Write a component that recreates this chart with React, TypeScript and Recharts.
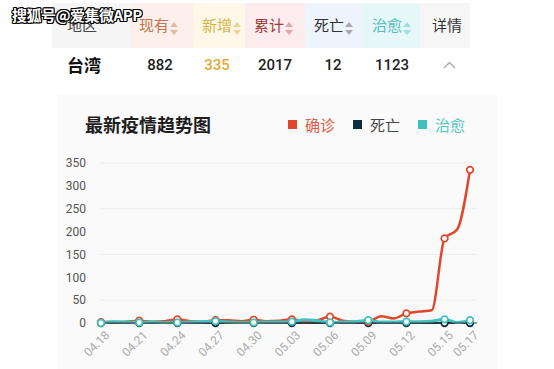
import React from 'react'
import { LineChart, Line, XAxis, YAxis, CartesianGrid, Legend } from 'recharts'

const dates = [
  '04.18', '04.19', '04.20', '04.21', '04.22', '04.23', '04.24', '04.25', '04.26', '04.27',
  '04.28', '04.29', '04.30', '05.01', '05.02', '05.03', '05.04', '05.05', '05.06', '05.07',
  '05.08', '05.09', '05.10', '05.11', '05.12', '05.13', '05.14', '05.15', '05.16', '05.17'
]
const confirmed = [2, 2, 3, 5, 3, 4, 8, 4, 3, 6, 6, 4, 7, 4, 5, 8, 4, 6, 14, 5, 3, 3, 15, 10, 21, 25, 28, 185, 205, 335]
const deaths = [0, 0, 0, 0, 0, 0, 0, 0, 0, 0, 0, 0, 0, 0, 0, 0, 0, 0, 0, 0, 0, 0, 0, 0, 0, 0, 0, 0, 0, 0]
const cured = [0, 3, 2, 1, 2, 1, 1, 2, 3, 4, 2, 1, 1, 2, 2, 3, 7, 5, 1, 2, 3, 6, 2, 2, 3, 3, 4, 8, 1, 6]
const xTicks = ['04.18', '04.21', '04.24', '04.27', '04.30', '05.03', '05.06', '05.09', '05.12', '05.15', '05.17']
const yTicks = [0, 50, 100, 150, 200, 250, 300, 350]
const legendOrder = ['确诊', '死亡', '治愈']

const headers = [
  { label: '地区', x: 52, w: 78, bg: '#f5f5f5', color: '#444', arrow: null },
  { label: '现有', x: 130, w: 63, bg: '#fdf0ea', color: '#c2734c', arrow: '#e8b7a0' },
  { label: '新增', x: 193, w: 52, bg: '#fff8e8', color: '#d6b445', arrow: '#e8d58f' },
  { label: '累计', x: 245, w: 60, bg: '#fcecee', color: '#a23c3c', arrow: '#dba7a7' },
  { label: '死亡', x: 305, w: 58, bg: '#edf4fb', color: '#333', arrow: '#aaa' },
  { label: '治愈', x: 363, w: 57, bg: '#e6f7f7', color: '#4bbfbf', arrow: '#9fdede' },
  { label: '详情', x: 420, w: 50, bg: '#f6f6f6', color: '#333', arrow: null }
]
const rowValues = [
  { text: '882', cx: 160, color: '#222' },
  { text: '335', cx: 217, color: '#e0a93a' },
  { text: '2017', cx: 275, color: '#222' },
  { text: '12', cx: 333, color: '#222' },
  { text: '1123', cx: 392, color: '#222' }
]

const RED = '#e2472d'
const NAVY = '#0f2b3c'
const TEAL = '#3fc1bf'

const data = dates.map((d, i) => ({ date: d, confirmed: confirmed[i], deaths: deaths[i], cured: cured[i] }))
const lastIndex = dates.length - 1
const FONT = "'Noto Sans CJK SC', 'Noto Sans', sans-serif"

function makeDot(color: string) {
  return (props: any) => {
    const { cx, cy, index } = props
    if (index % 3 !== 0 && index !== lastIndex) return <g key={`d-${index}`} />
    return <circle key={`d-${index}`} cx={cx} cy={cy} r={3.3} fill="#fff" stroke={color} strokeWidth={1.7} />
  }
}

function XTick(props: any) {
  const { x, y, payload } = props
  return (
    <g transform={`translate(${x},${y})`}>
      <text x={0} y={0} dy={10} dx={3} textAnchor="end" fill="#ababab" fontSize={12} fontFamily="Roboto, sans-serif" transform="rotate(-45)">
        {payload.value}
      </text>
    </g>
  )
}

function Arrow({ color }: { color: string }) {
  return (
    <svg width={8} height={13} style={{ position: 'absolute', top: 19 }}>
      <path d="M4 0 L8 5 L0 5 Z" fill={color} />
      <path d="M4 13 L8 8 L0 8 Z" fill={color} />
    </svg>
  )
}

function LegendContent(props: any) {
  const items = [...(props.payload || [])].sort(
    (a: any, b: any) => legendOrder.indexOf(a.value) - legendOrder.indexOf(b.value)
  )
  return (
    <div style={{ display: 'flex', alignItems: 'center', fontFamily: FONT, fontSize: 15 }}>
      {items.map((p: any) => (
        <div key={p.value} style={{ display: 'flex', alignItems: 'center', marginRight: 18 }}>
          <span style={{ width: 9, height: 9, background: p.color, display: 'inline-block', marginRight: 8 }} />
          <span style={{ color: p.value === '死亡' ? '#333' : p.color, opacity: 0.9 }}>{p.value}</span>
        </div>
      ))}
    </div>
  )
}

export default function App() {
  return (
    <div style={{ position: 'absolute', left: 0, top: 0, width: 554, height: 369, background: '#fff', overflow: 'hidden', fontFamily: FONT }}>
      {headers.map((h) => (
        <div key={h.label} style={{ position: 'absolute', left: h.x, top: 3, width: h.w, height: 45, background: h.bg }}>
          <span style={{ position: 'absolute', left: h.label === '地区' ? 15 : h.label === '详情' ? 12 : 9, top: 13, fontSize: 15, lineHeight: '18px', color: h.color }}>{h.label}</span>
          {h.arrow && (
            <span style={{ position: 'absolute', left: 40 }}>
              <Arrow color={h.arrow} />
            </span>
          )}
        </div>
      ))}
      <div style={{ position: 'absolute', left: 12, top: 4, fontSize: 15, fontWeight: 700, color: '#fff', letterSpacing: -0.5, textShadow: '1px 0 0 #000, -1px 0 0 #000, 0 1px 0 #000, 0 -1px 0 #000, 1px 1px 0 #000, -1px -1px 0 #000, 1px -1px 0 #000, -1px 1px 0 #000' }}>
        搜狐号@爱集微APP
      </div>
      <div style={{ position: 'absolute', left: 67, top: 54, fontSize: 17, fontWeight: 700, color: '#111', lineHeight: '22px' }}>台湾</div>
      {rowValues.map((v) => (
        <div key={v.text} style={{ position: 'absolute', left: v.cx - 30, width: 60, top: 55, textAlign: 'center', fontSize: 15, fontWeight: 500, color: v.color, fontFamily: "Roboto, 'Noto Sans', sans-serif", lineHeight: '20px' }}>
          {v.text}
        </div>
      ))}
      <svg style={{ position: 'absolute', left: 443, top: 61 }} width={13} height={8}>
        <path d="M1 7 L6.5 1.5 L12 7" fill="none" stroke="#aaa" strokeWidth={1.3} />
      </svg>
      <div style={{ position: 'absolute', left: 57, top: 95, width: 441, height: 274, background: '#fafafa' }} />
      <div style={{ position: 'absolute', left: 85, top: 112, fontSize: 18, fontWeight: 700, color: '#1e1e1e', lineHeight: '24px' }}>最新疫情趋势图</div>
      <div style={{ position: 'absolute', left: 0, top: 100 }}>
        <LineChart width={554} height={269} data={data} margin={{ top: 63, right: 77, bottom: 0, left: 60 }}>
          <CartesianGrid vertical={false} stroke="#ededed" />
          <XAxis
            dataKey="date"
            ticks={xTicks}
            interval={0}
            tick={<XTick />}
            tickLine={false}
            axisLine={{ stroke: '#444' }}
            height={46}
            padding={{ left: 0, right: 7 }}
          />
          <YAxis
            domain={[0, 350]}
            ticks={yTicks}
            width={41}
            axisLine={false}
            tickLine={false}
            tickMargin={9}
            tick={{ fontSize: 12, fill: '#555', fontFamily: 'Roboto, sans-serif' }}
          />
          <Legend
            layout="horizontal"
            verticalAlign="middle"
            align="center"
            content={<LegendContent />}
            wrapperStyle={{ top: 14, left: 288, width: 'auto' }}
          />
          <Line type="monotone" dataKey="deaths" name="死亡" stroke={NAVY} strokeWidth={2} dot={makeDot(NAVY)} isAnimationActive={false} legendType="square" />
          <Line type="monotone" dataKey="confirmed" name="确诊" stroke={RED} strokeWidth={2.5} dot={makeDot(RED)} isAnimationActive={false} legendType="square" />
          <Line type="monotone" dataKey="cured" name="治愈" stroke={TEAL} strokeWidth={3} dot={makeDot(TEAL)} isAnimationActive={false} legendType="square" />
        </LineChart>
      </div>
    </div>
  )
}
